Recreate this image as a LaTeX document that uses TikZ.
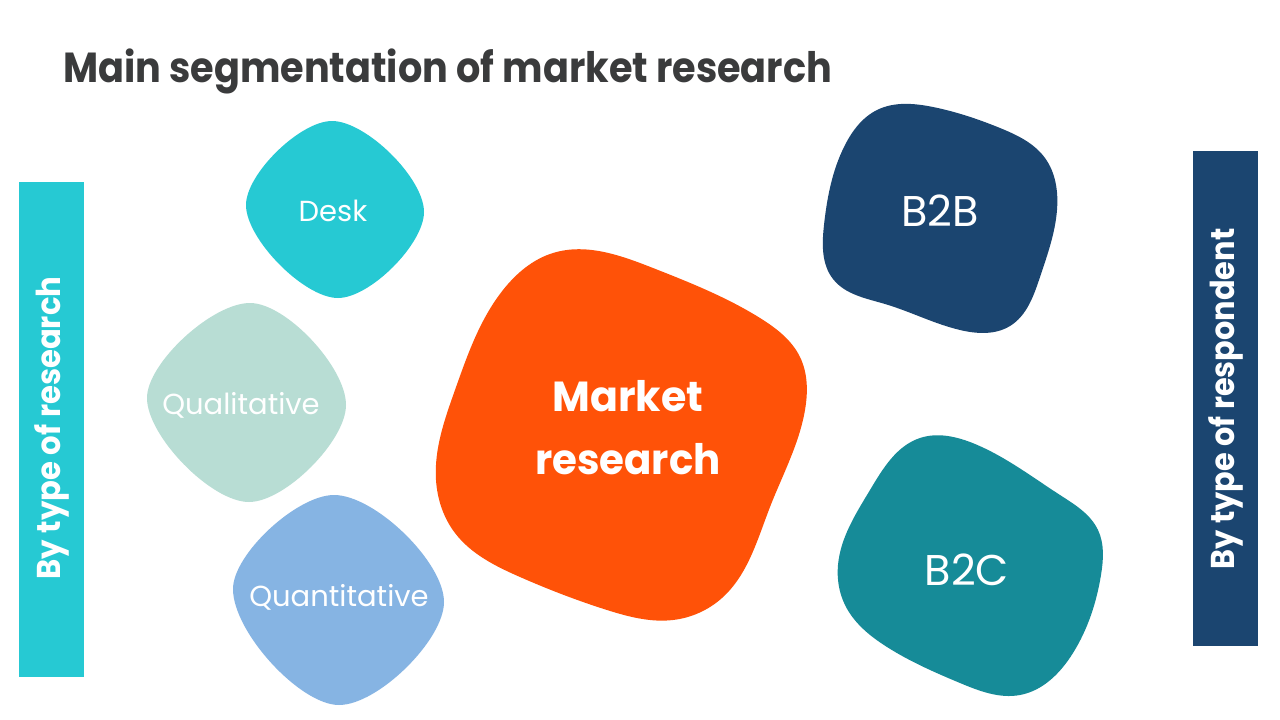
\documentclass[tikz,border=0pt]{standalone}
\usepackage{fontspec}
\setmainfont{Poppins}
\usetikzlibrary{hobby}
\definecolor{titlegray}{HTML}{3A3B3C}
\definecolor{deskc}{HTML}{26C9D3}
\definecolor{qualc}{HTML}{B8DDD4}
\definecolor{quantc}{HTML}{86B4E3}
\definecolor{marketc}{HTML}{FF5208}
\definecolor{navyc}{HTML}{1B4570}
\definecolor{tealc}{HTML}{168B98}
\begin{document}
\begin{tikzpicture}[x=1pt,y=-1pt,
  blobtext/.style={text=white,inner sep=0pt,align=center},
  bartext/.style={text=white,inner sep=0pt,rotate=90,font=\bfseries\fontsize{33}{36}\selectfont},
  blobshape/.style={use Hobby shortcut,closed=true}]
\useasboundingbox[fill=white] (0,0) rectangle (1280,720);

% title
\node[anchor=base west,inner sep=0pt,text=titlegray,font=\bfseries\fontsize{42}{48}\selectfont] (title) at (63,82) {\scalebox{0.91}[1]{Main segmentation of market research}};

% side bars
\fill[deskc] (19,182) rectangle (84,677);
\node[bartext] (leftlabel) at (52,428) {\scalebox{0.93}[1]{By type of research}};
\fill[navyc] (1193,151) rectangle (1258,646);
\node[bartext] (rightlabel) at (1226,399) {\scalebox{0.92}[1]{By type of respondent}};

% left blobs (rounded diamonds)
\fill[deskc] (332,121) .. controls +(34,0) and +(0,-34) .. (424,212)
  .. controls +(0,32) and +(32,0) .. (338,298)
  .. controls +(-34,0) and +(0,34) .. (246,205)
  .. controls +(0,-31) and +(-32,0) .. cycle;
\fill[qualc] (250,303) .. controls +(36,0) and +(0,-38) .. (346,405)
  .. controls +(0,36) and +(36,0) .. (249,502)
  .. controls +(-38,0) and +(0,38) .. (147,398)
  .. controls +(0,-35) and +(-38,0) .. cycle;
\fill[quantc] (334,495) .. controls +(41,0) and +(0,-40) .. (444,602)
  .. controls +(0,38) and +(39,0) .. (339,705)
  .. controls +(-39,0) and +(0,43) .. (233,589)
  .. controls +(0,-35) and +(-37,0) .. cycle;

% central and right blobs
\fill[marketc,blobshape] (553,253) .. (653,268) .. (760,318) .. (800,357) .. (805,410) .. (770,507) .. (722,598) .. (673,620) .. (607,610) .. (520,577) .. (455,533) .. (436,480) .. (455,390) .. (503,290);
\fill[navyc,blobshape] (877,110) .. (933,107) .. (1000,128) .. (1045,158) .. (1057,210) .. (1040,277) .. (1010,326) .. (960,330) .. (885,304) .. (833,279) .. (824,225) .. (845,145);
\fill[tealc,blobshape] (920,438) .. (975,444) .. (1060,495) .. (1098,530) .. (1101,575) .. (1073,653) .. (1020,695) .. (960,683) .. (887,647) .. (845,605) .. (838,565) .. (870,490);

% blob labels
\node[blobtext,font=\fontsize{29}{32}\selectfont] (desk) at (333,211) {Desk};
\node[blobtext,font=\fontsize{29}{32}\selectfont] (qual) at (241,405) {Qualitative};
\node[blobtext,font=\fontsize{29}{32}\selectfont] (quant) at (339,597) {Quantitative};
\node[blobtext,font=\bfseries\fontsize{42}{63}\selectfont] (market) at (628,428) {\scalebox{0.98}[1]{Market}\\\scalebox{0.96}[1]{research}};
\node[blobtext,font=\fontsize{43}{48}\selectfont] (b2b) at (940,211) {B2B};
\node[blobtext,font=\fontsize{43}{48}\selectfont] (b2c) at (967,570) {B2C};
\end{tikzpicture}
\end{document}
